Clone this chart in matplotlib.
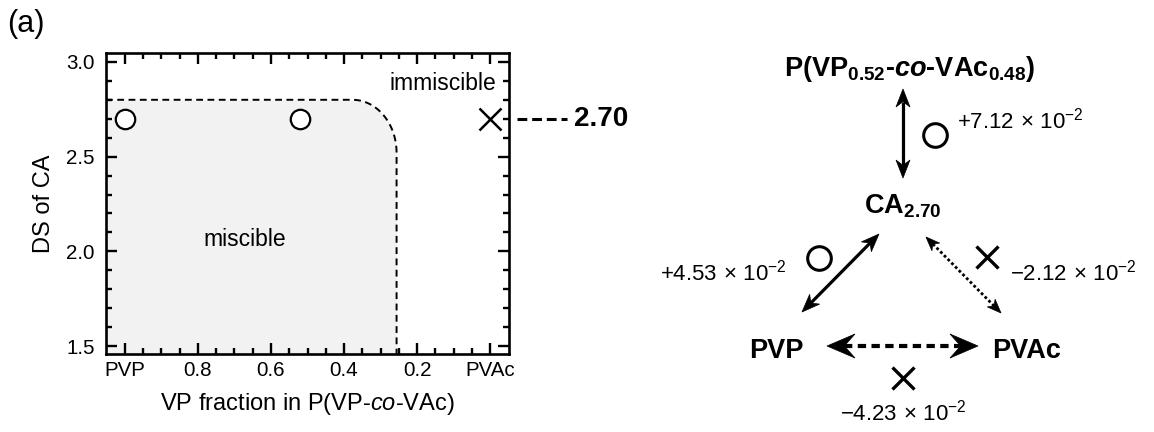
import numpy as np
import matplotlib
matplotlib.use("Agg")
import matplotlib.pyplot as plt
from matplotlib.patches import Polygon

plt.rcParams['font.family'] = ['Liberation Sans', 'DejaVu Sans']
plt.rcParams['mathtext.fontset'] = 'custom'
plt.rcParams['mathtext.rm'] = 'Liberation Sans'
plt.rcParams['mathtext.it'] = 'Liberation Sans:italic'
plt.rcParams['mathtext.bf'] = 'Liberation Sans:bold'
plt.rcParams['mathtext.bfit'] = 'Liberation Sans:bold:italic'

# ---------------- data ----------------
vp_fraction = [1.0, 0.52, 0.0]
ds_values = [2.70, 2.70, 2.70]
miscible = [True, True, False]
xtick_vals = [1.0, 0.8, 0.6, 0.4, 0.2, 0.0]
xtick_labels = ['PVP', '0.8', '0.6', '0.4', '0.2', 'PVAc']
ytick_vals = [1.5, 2.0, 2.5, 3.0]
boundary_ds = 2.80          # upper edge of miscible region
boundary_vp = 0.256         # lowest VP fraction of miscible region
corner_vp = 0.377           # where boundary starts bending
corner_ds = 2.52            # where boundary becomes vertical
highlight_ds = 2.70

# diagram data
node_labels = ['P(VP$_{\\mathbf{0.52}}$-$\\mathbfit{co}$-VAc$_{\\mathbf{0.48}}$)',
               'CA$_{\\mathbf{2.70}}$', 'PVP', 'PVAc']
pair_values = ['+7.12', '+4.53', '\u22122.12', '\u22124.23']
pair_miscible = [True, True, False, False]

# ---------------- figure ----------------
fig = plt.figure(figsize=(11.54, 4.32), dpi=100)
ax = fig.add_axes([106/1154, 1-354/432, (509-106)/1154, (354-53)/432])

xlim = (1.052, -0.052)
ylim = (1.458, 3.047)

# miscible region
t = np.linspace(0, np.pi/2, 60)
rx = corner_vp - boundary_vp
ry = boundary_ds - corner_ds
arc_x = corner_vp - rx*np.sin(t)
arc_y = corner_ds + ry*np.cos(t)
bx = np.concatenate([[xlim[0]], arc_x, [boundary_vp]])
by = np.concatenate([[boundary_ds], arc_y, [ylim[0]]])
ax.fill_between(bx, ylim[0], by, color='#f2f2f2', lw=0, zorder=0)
ax.plot(bx, by, color='black', lw=1.4, dashes=(3.5, 2.3), zorder=2)

for x, y, m in zip(vp_fraction, ds_values, miscible):
    if m:
        ax.plot(x, y, 'o', ms=14, mfc='white', mec='black', mew=1.6, zorder=3, clip_on=False)
    else:
        ax.plot(x, y, 'x', ms=16, mec='black', mew=1.8, zorder=3, clip_on=False)

ax.set_xlim(*xlim)
ax.set_ylim(*ylim)
ax.set_xticks(xtick_vals)
ax.set_xticklabels(xtick_labels)
ax.set_xticks(np.arange(0, 1.0001, 0.05), minor=True)
ax.set_yticks(ytick_vals)
ax.set_yticklabels([f'{v:.1f}' for v in ytick_vals])
ax.set_yticks(np.arange(1.5, 3.0001, 0.1), minor=True)
ax.tick_params(which='both', direction='in', top=True, right=True, width=1.7, labelsize=14.8)
ax.tick_params(which='major', length=8)
ax.tick_params(which='minor', length=4.5)
ax.tick_params(axis='x', pad=5)
ax.tick_params(axis='y', pad=8)
for s in ax.spines.values():
    s.set_linewidth(1.9)

ax.set_xlabel('VP fraction in P(VP-$\\mathit{co}$-VAc)', fontsize=17, labelpad=8)
ax.set_ylabel('DS of CA', fontsize=17, labelpad=8)
ax.text(0.673, 2.06, 'miscible', fontsize=16.5, ha='center', va='center')
ax.text(0.128, 2.885, 'immiscible', fontsize=16.5, ha='center', va='center')

# dashed pointer to 2.70
ax.plot([-0.073, -0.21], [highlight_ds, highlight_ds], color='black', lw=2.2,
        dashes=(3.2, 1.6), clip_on=False)
ax.text(-0.229, highlight_ds, f'{highlight_ds:.2f}', fontsize=20, fontweight='bold',
        ha='left', va='center')

# ---------------- overlay for diagram ----------------
ov = fig.add_axes([0, 0, 1, 1])
ov.set_xlim(0, 1154)
ov.set_ylim(432, 0)
ov.axis('off')
ov.patch.set_alpha(0)

ov.text(7, 32, '(a)', fontsize=22, ha='left', va='baseline')


def stealth(p_tip, p_from, L, W, notch):
    p_tip = np.asarray(p_tip, float)
    p_from = np.asarray(p_from, float)
    d = p_tip - p_from
    d /= np.hypot(*d)
    n = np.array([-d[1], d[0]])
    back = p_tip - d*L
    poly = [p_tip, back + n*W/2, p_tip - d*L*notch, back - n*W/2]
    ov.add_patch(Polygon(poly, closed=True, fc='black', ec='black', lw=0.5, zorder=5))
    return p_tip - d*L*notch


def double_arrow(a, b, L, W, notch, lw, dashes=None):
    a2 = stealth(a, b, L, W, notch)
    b2 = stealth(b, a, L, W, notch)
    kw = dict(color='black', lw=lw, solid_capstyle='butt')
    if dashes is not None:
        kw['dashes'] = dashes
        kw['dash_capstyle'] = 'butt'
    ov.plot([a2[0], b2[0]], [a2[1], b2[1]], **kw)


def coeff(v):
    return v + '$\\,\\times\\,$10$^{\\mathrm{\u22122}}$'


# nodes
bold = dict(fontsize=19.5, fontweight='bold', va='baseline', ha='center')
ov.text(910, 76, node_labels[0], **bold)
ov.text(903, 213, node_labels[1], **bold)
ov.text(776, 358, node_labels[2], **bold)
ov.text(1027, 358, node_labels[3], **bold)

# arrows
double_arrow((903, 89), (903, 178), 18, 14, 0.7, 2.3)
double_arrow((879, 234), (802, 312), 18, 14, 0.7, 2.3)
double_arrow((926, 237), (1001, 313), 14, 11, 0.7, 2.0, dashes=(1.0, 0.9))
double_arrow((827, 346), (978, 346), 28, 24, 0.62, 3.0, dashes=(2.0, 1.3))

# symbols and values
sym_pos = [(935, 135), (819, 258), (987, 257), (903, 378)]
txt_pos = [(957, 129, 'left'), (787, 281, 'right'), (1010, 281, 'left'), (903, 421, 'center')]
for (sx, sy), (tx, ty, ha), val, m in zip(sym_pos, txt_pos, pair_values, pair_miscible):
    if m:
        ov.plot(sx, sy, 'o', ms=17, mfc='white', mec='black', mew=2.2)
    else:
        ov.plot(sx, sy, 'x', ms=16, mec='black', mew=2.4)
    ov.text(tx, ty, coeff(val), fontsize=16, ha=ha, va='baseline')

fig.savefig('out.png', dpi=100)
